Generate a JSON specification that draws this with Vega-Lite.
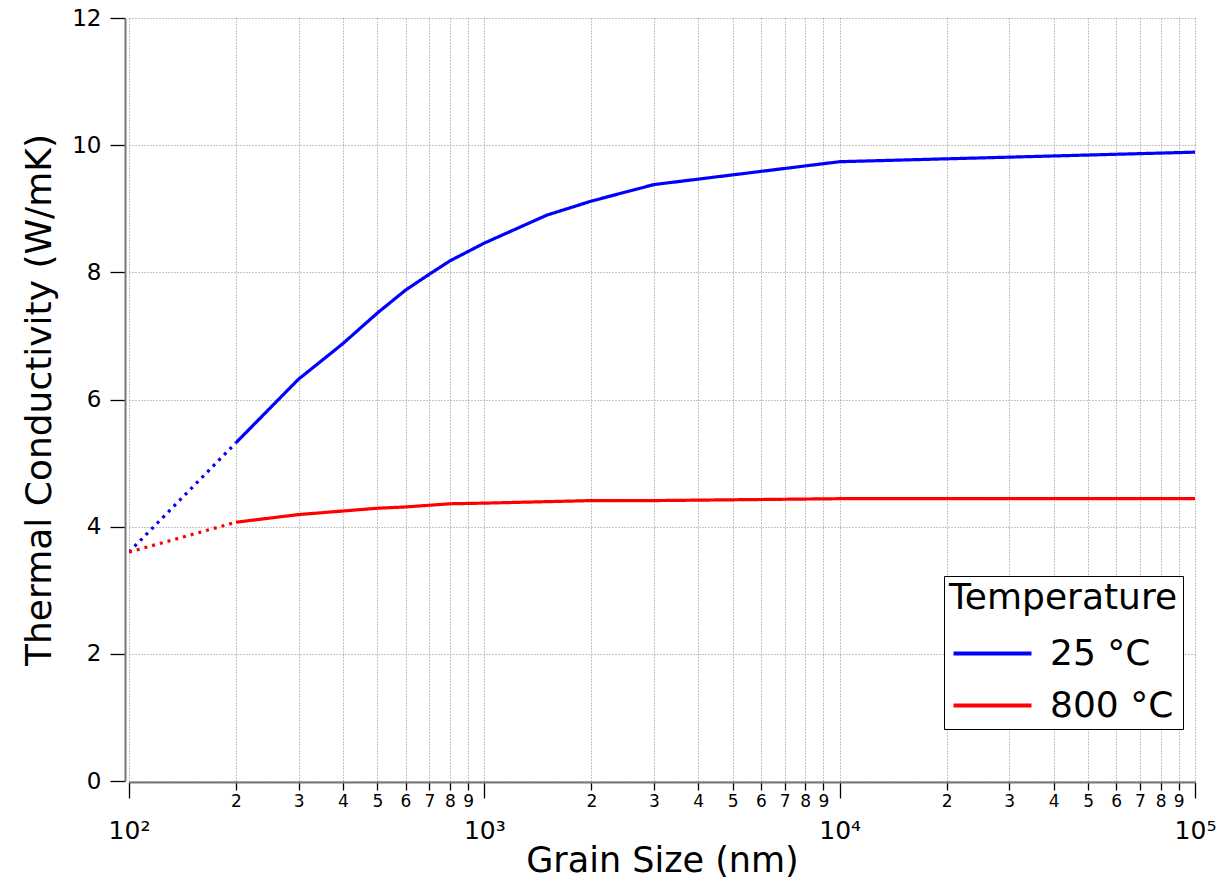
{
  "$schema": "https://vega.github.io/schema/vega-lite/v6.json",
  "width": 1066,
  "height": 763,
  "autosize": {"type": "none"},
  "padding": {"left": 129, "top": 18, "right": 23, "bottom": 103},
  "background": "white",
  "config": {
    "view": {"stroke": null},
    "font": "DejaVu Sans",
    "axis": {
      "gridColor": "#8a8a8a",
      "gridDash": [1, 2],
      "gridWidth": 1,
      "gridOpacity": 1,
      "domainColor": "#777777",
      "domainWidth": 2,
      "tickColor": "#000000",
      "tickWidth": 1.3,
      "labelColor": "#000000",
      "titleColor": "#000000",
      "titleFontWeight": "normal",
      "labelFont": "DejaVu Sans",
      "titleFont": "DejaVu Sans"
    }
  },
  "data": {
    "values": [
      {"size": 100, "k": 3.6, "temp": "25 °C", "seg": "extrapolated"},
      {"size": 200, "k": 5.32, "temp": "25 °C", "seg": "extrapolated"},
      {"size": 200, "k": 5.32, "temp": "25 °C", "seg": "measured"},
      {"size": 300, "k": 6.32, "temp": "25 °C", "seg": "measured"},
      {"size": 400, "k": 6.88, "temp": "25 °C", "seg": "measured"},
      {"size": 500, "k": 7.36, "temp": "25 °C", "seg": "measured"},
      {"size": 600, "k": 7.72, "temp": "25 °C", "seg": "measured"},
      {"size": 700, "k": 7.97, "temp": "25 °C", "seg": "measured"},
      {"size": 800, "k": 8.18, "temp": "25 °C", "seg": "measured"},
      {"size": 1000, "k": 8.46, "temp": "25 °C", "seg": "measured"},
      {"size": 1500, "k": 8.9, "temp": "25 °C", "seg": "measured"},
      {"size": 2000, "k": 9.12, "temp": "25 °C", "seg": "measured"},
      {"size": 3000, "k": 9.38, "temp": "25 °C", "seg": "measured"},
      {"size": 10000, "k": 9.74, "temp": "25 °C", "seg": "measured"},
      {"size": 100000, "k": 9.89, "temp": "25 °C", "seg": "measured"},
      {"size": 100, "k": 3.6, "temp": "800 °C", "seg": "extrapolated"},
      {"size": 200, "k": 4.07, "temp": "800 °C", "seg": "extrapolated"},
      {"size": 200, "k": 4.07, "temp": "800 °C", "seg": "measured"},
      {"size": 300, "k": 4.19, "temp": "800 °C", "seg": "measured"},
      {"size": 500, "k": 4.29, "temp": "800 °C", "seg": "measured"},
      {"size": 600, "k": 4.31, "temp": "800 °C", "seg": "measured"},
      {"size": 800, "k": 4.36, "temp": "800 °C", "seg": "measured"},
      {"size": 1000, "k": 4.37, "temp": "800 °C", "seg": "measured"},
      {"size": 2000, "k": 4.41, "temp": "800 °C", "seg": "measured"},
      {"size": 3000, "k": 4.41, "temp": "800 °C", "seg": "measured"},
      {"size": 10000, "k": 4.44, "temp": "800 °C", "seg": "measured"},
      {"size": 100000, "k": 4.44, "temp": "800 °C", "seg": "measured"}
    ]
  },
  "mark": {"type": "line", "strokeWidth": 3.2, "strokeCap": "butt", "clip": true},
  "encoding": {
    "x": {
      "field": "size",
      "type": "quantitative",
      "scale": {"type": "log", "domain": [100, 100000], "nice": false},
      "axis": {
        "title": "Grain Size (nm)",
        "titleFontSize": 35,
        "titlePadding": 0,
        "values": [100, 200, 300, 400, 500, 600, 700, 800, 900, 1000, 2000, 3000, 4000, 5000, 6000, 7000, 8000, 9000, 10000, 20000, 30000, 40000, 50000, 60000, 70000, 80000, 90000, 100000],
        "labelExpr": "datum.value == 100 ? '10²' : datum.value == 1000 ? '10³' : datum.value == 10000 ? '10⁴' : datum.value == 100000 ? '10⁵' : '' + round(datum.value / pow(10, floor(log(datum.value) / LN10 + 1e-9)))",
        "labelFontSize": {"condition": {"test": "indexof([100, 1000, 10000, 100000], datum.value) >= 0", "value": 25}, "value": 17},
        "tickSize": {"condition": {"test": "indexof([100, 1000, 10000, 100000], datum.value) >= 0", "value": 16}, "value": 8},
        "labelPadding": {"condition": {"test": "indexof([100, 1000, 10000, 100000], datum.value) >= 0", "value": 20}, "value": 3},
        "labelOverlap": false,
        "labelFlush": false,
        "offset": 1
      }
    },
    "y": {
      "field": "k",
      "type": "quantitative",
      "scale": {"domain": [0, 12], "nice": false, "zero": true},
      "axis": {
        "title": "Thermal Conductivity (W/mK)",
        "titleFontSize": 36,
        "titlePadding": 13,
        "values": [0, 2, 4, 6, 8, 10, 12],
        "labelFontSize": 23,
        "labelPadding": 9,
        "tickSize": 15,
        "offset": 4
      }
    },
    "color": {
      "field": "temp",
      "type": "nominal",
      "scale": {"domain": ["25 °C", "800 °C"], "range": ["#0000ff", "#ff0000"]},
      "legend": {
        "title": "Temperature",
        "orient": "none",
        "legendX": 815,
        "legendY": 558,
        "titleFontSize": 36,
        "titleFontWeight": "normal",
        "titleColor": "#000000",
        "titleLimit": 500,
        "labelLimit": 500,
        "labelFontSize": 36,
        "labelColor": "#000000",
        "symbolType": "M-2,0H2",
        "symbolSize": 1521,
        "symbolStrokeWidth": 4,
        "symbolOffset": 22,
        "labelOffset": 36,
        "strokeColor": "#000000",
        "fillColor": "#ffffff",
        "padding": 5,
        "rowPadding": 12,
        "titlePadding": 15
      }
    },
    "strokeDash": {
      "field": "seg",
      "type": "nominal",
      "scale": {"domain": ["measured", "extrapolated"], "range": [[1, 0], [3, 5]]},
      "legend": null
    }
  }
}
